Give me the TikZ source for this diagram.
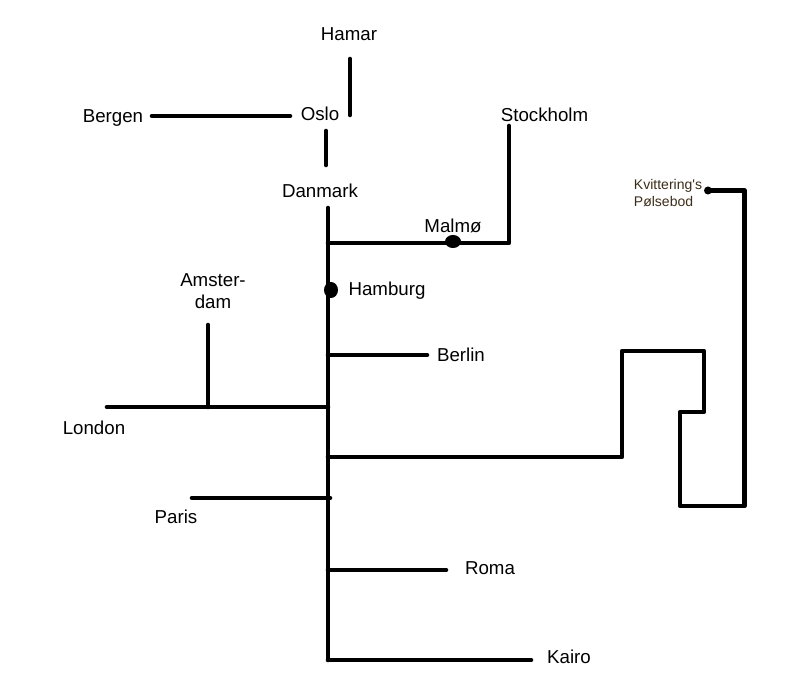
\documentclass[tikz,border=0pt]{standalone}
\usepackage{fontspec}
\setmainfont{Liberation Sans}
\definecolor{kvb}{RGB}{60,45,25}
\tikzset{
 px/.style={x=1pt,y=-1pt},
 road/.style={draw=black,line width=4.6pt,line cap=round,line join=round},
 city/.style={font=\fontsize{18.7}{22.5}\selectfont,inner sep=0pt,align=center,text=black},
 small/.style={font=\fontsize{14}{17}\selectfont,inner sep=0pt,align=left,text=kvb},
 stop/.style={fill=black,draw=none}
}
\begin{document}
\begin{tikzpicture}[px]
\useasboundingbox[fill=white] (0,0) rectangle (809,700);
\node[city] (hamar) at (349,34) {Hamar};
\node[city] (bergen) at (113,118) {Bergen};
\node[city] (oslo) at (320,114) {Oslo};
\node[city] (stockholm) at (544.5,115) {Stockholm};
\node[city] (danmark) at (320,191) {Danmark};
\node[city] (malmo) at (453,226) {Malmø};
\node[city] (hamburg) at (387,291) {Hamburg};
\node[city] (amsterdam) at (213,291) {Amster-\\dam};
\node[city] (berlin) at (461,355) {Berlin};
\node[city] (london) at (94,428) {London};
\node[city] (paris) at (176,517) {Paris};
\node[city] (roma) at (490,568) {Roma};
\node[city] (kairo) at (569,657) {Kairo};
\node[small] (kv) at (668,193) {Kvittering\textquotesingle s\\Pølsebod};
\coordinate (h1) at (350,59);
\coordinate (h2) at (350,115);
\coordinate (b1) at (152,116);
\coordinate (b2) at (290,116);
\coordinate (d1) at (326,131);
\coordinate (d2) at (326,165);
\coordinate (top) at (328,208);
\coordinate (bot) at (328,660);
\coordinate (mj) at (328,243);
\coordinate (sj) at (509,243);
\coordinate (st) at (509,126);
\coordinate (bj) at (328,355);
\coordinate (be) at (427,355);
\coordinate (lj) at (328,407);
\coordinate (le) at (107,407);
\coordinate (aj) at (208,407);
\coordinate (at) at (208,325);
\coordinate (pj) at (330,498);
\coordinate (pe) at (192,498);
\coordinate (rj) at (328,570);
\coordinate (re) at (446,570);
\coordinate (kj) at (328,660);
\coordinate (ke) at (531,660);
\coordinate (mz) at (328,457);
\coordinate (kvs) at (708,190.5);
\draw[road] (h1) -- (h2);
\draw[road] (b1) -- (b2);
\draw[road] (d1) -- (d2);
\draw[road] (top) -- (bot);
\draw[road] (mj) -- (sj) -- (st);
\draw[road] (bj) -- (be);
\draw[road] (lj) -- (le);
\draw[road] (aj) -- (at);
\draw[road] (pj) -- (pe);
\draw[road] (rj) -- (re);
\draw[road] (kj) -- (ke);
\draw[road] (mz) -- (622,457) -- (622,351) -- (704,351) -- (704,412) -- (680,412) -- (680,506) -- (744.5,506) -- (744.5,190.5) -- (kvs);
\fill[stop] (453,241.5) ellipse (8 and 6.5);
\fill[stop] (331,290) ellipse (7 and 8);
\fill[stop] (kvs) circle (4);
\end{tikzpicture}
\end{document}
